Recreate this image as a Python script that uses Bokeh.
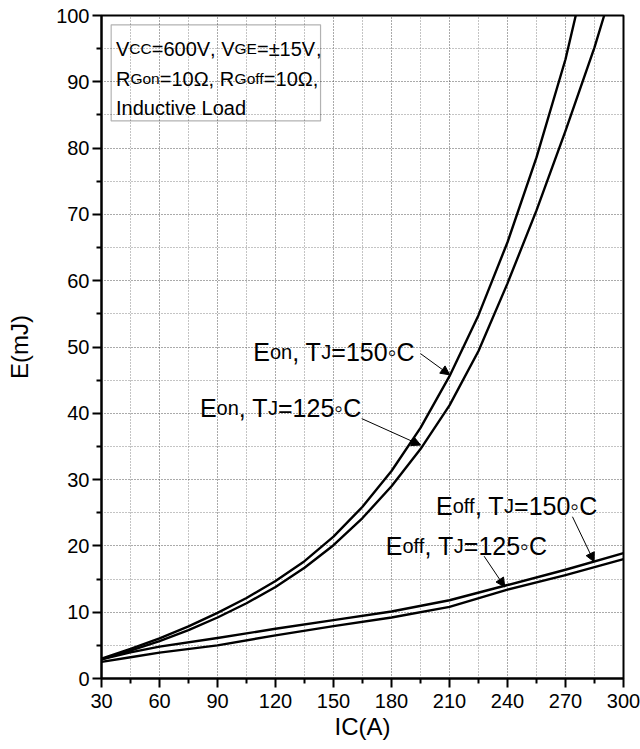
from bokeh.plotting import figure
from bokeh.models import Label, FixedTicker, Arrow, NormalHead, Range1d, BoxAnnotation
from bokeh.embed import file_html
from bokeh.resources import INLINE

FONT = "Liberation Sans"

# Switching energy vs collector current
eon150_ic = [30, 45, 60, 75, 90, 105, 120, 135, 150, 165, 180, 195, 210, 225, 240, 255, 270, 275.3]
eon150_e = [3.0, 4.45, 6.05, 7.85, 9.9, 12.15, 14.7, 17.7, 21.4, 25.9, 31.3, 37.8, 45.6, 54.8, 65.8, 78.6, 93.4, 100.0]

eon125_ic = [30, 45, 60, 75, 90, 105, 120, 135, 150, 165, 180, 195, 210, 225, 240, 255, 270, 285, 290]
eon125_e = [2.9, 4.2, 5.65, 7.3, 9.2, 11.35, 13.8, 16.7, 20.1, 24.2, 29.0, 34.6, 41.2, 49.4, 59.6, 70.6, 82.6, 95.2, 100.0]

eoff150_ic = [30, 45, 60, 90, 120, 150, 180, 210, 240, 270, 300]
eoff150_e = [2.9, 3.95, 4.8, 6.1, 7.5, 8.8, 10.1, 11.8, 14.1, 16.4, 18.9]

eoff125_ic = [30, 45, 60, 90, 120, 150, 180, 210, 240, 270, 300]
eoff125_e = [2.5, 3.2, 3.9, 5.0, 6.5, 7.9, 9.2, 10.8, 13.4, 15.6, 18.0]

x_major = [30, 60, 90, 120, 150, 180, 210, 240, 270, 300]
x_minor = [45, 75, 105, 135, 165, 195, 225, 255, 285]
y_major = [0, 10, 20, 30, 40, 50, 60, 70, 80, 90, 100]
y_minor = [5, 15, 25, 35, 45, 55, 65, 75, 85, 95]

p = figure(
    width=640, height=749,
    min_border_left=101, min_border_right=17, min_border_top=15, min_border_bottom=71,
    x_range=Range1d(30, 300), y_range=Range1d(0, 100),
    output_backend="svg", toolbar_location=None,
    background_fill_color="white", border_fill_color="white",
)

p.outline_line_color = "black"
p.outline_line_width = 2

p.xaxis.ticker = FixedTicker(ticks=x_major, minor_ticks=x_minor)
p.yaxis.ticker = FixedTicker(ticks=y_major, minor_ticks=y_minor)

for ax in (p.xaxis[0], p.yaxis[0]):
    ax.axis_line_width = 2
    ax.axis_line_color = "black"
    ax.major_tick_line_width = 2
    ax.minor_tick_line_width = 2
    ax.major_tick_line_color = "black"
    ax.minor_tick_line_color = "black"
    ax.major_tick_in = 0
    ax.major_tick_out = 9
    ax.minor_tick_in = 0
    ax.minor_tick_out = 5
    ax.major_label_text_font = FONT
    ax.major_label_text_font_size = "20px"
    ax.major_label_text_color = "black"
    ax.axis_label_text_font = FONT
    ax.axis_label_text_font_size = "24px"
    ax.axis_label_text_font_style = "normal"
    ax.axis_label_text_color = "black"

p.xaxis.major_label_standoff = 6
p.yaxis.major_label_standoff = 3
p.xaxis.axis_label = "IC(A)"
p.xaxis.axis_label_standoff = 2
p.yaxis.axis_label = "E(mJ)"
p.yaxis.axis_label_standoff = 20

for g in (p.xgrid[0], p.ygrid[0]):
    g.grid_line_color = "#555555"
    g.grid_line_dash = "1 2"
    g.grid_line_width = 1
    g.minor_grid_line_color = "#888888"
    g.minor_grid_line_dash = "1 2"
    g.minor_grid_line_width = 1

for ic, e in ((eon150_ic, eon150_e), (eon125_ic, eon125_e),
              (eoff150_ic, eoff150_e), (eoff125_ic, eoff125_e)):
    p.line(ic, e, line_color="black", line_width=2.4, line_join="round")

# Advance widths (per 1000 em) for laying out mixed-size text runs
W = {' ': 278, ',': 278, '=': 584, '±': 584, 'Ω': 768, '◦': 354,
     '(': 333, ')': 333, 'A': 667, 'C': 722, 'E': 667, 'G': 778, 'I': 278,
     'J': 500, 'L': 556, 'R': 722, 'T': 611, 'V': 667, 'a': 556, 'c': 500,
     'd': 556, 'e': 556, 'f': 278, 'i': 222, 'm': 833, 'n': 556, 'o': 556,
     't': 278, 'u': 556, 'v': 500}
for ch in "0123456789":
    W[ch] = 556


def run_width(txt, size):
    return sum(W[c] for c in txt) / 1000.0 * size


def rich_text(runs, x, y, big, small):
    off = 0.0
    for txt, sub in runs:
        size = small if sub else big
        p.add_layout(Label(x=x, y=y, x_offset=off, text=txt,
                           text_font=FONT, text_font_size=f"{size}px",
                           text_baseline="alphabetic", text_align="left",
                           text_color="black"))
        off += run_width(txt, size)
    return off


# Test-condition box
p.add_layout(BoxAnnotation(left=35.0, right=143.3, bottom=84.1, top=98.6,
                           fill_alpha=0, line_color="black", line_width=1.2))
rich_text([("V", 0), ("CC", 1), ("=600V", 0), (", V", 0), ("GE", 1), ("=±15V", 0), (",", 0)],
          37.5, 95.0, 20, 15.5)
rich_text([("R", 0), ("Gon", 1), ("=10Ω, R", 0), ("Goff", 1), ("=10Ω,", 0)], 37.5, 90.45, 20, 15.5)
rich_text([("Inductive Load", 0)], 37.5, 86.0, 20, 15.5)

# Curve annotations
rich_text([("E", 0), ("on", 1), (", T", 0), ("J", 1), ("=150", 0), ("◦", 0), ("C", 0)], 108.5, 49.3, 25, 20)
rich_text([("E", 0), ("on", 1), (", T", 0), ("J", 1), ("=125", 0), ("◦", 0), ("C", 0)], 80.9, 40.75, 25, 20)
rich_text([("E", 0), ("off", 1), (", T", 0), ("J", 1), ("=150", 0), ("◦", 0), ("C", 0)], 203.0, 26.0, 25, 20)
rich_text([("E", 0), ("off", 1), (", T", 0), ("J", 1), ("=125", 0), ("◦", 0), ("C", 0)], 177.0, 19.95, 25, 20)

head = dict(size=9, line_color="black", fill_color="black", line_width=1)
for xs, ys, xe, ye in ((195.0, 49.0, 210.1, 45.8),
                       (164.6, 39.2, 195.1, 35.2),
                       (273.6, 24.4, 284.8, 17.6),
                       (227.9, 18.45, 238.6, 13.8)):
    p.add_layout(Arrow(end=NormalHead(**head), x_start=xs, y_start=ys, x_end=xe, y_end=ye,
                       line_color="black", line_width=1))

open("out.html", "w").write(file_html(p, INLINE))
